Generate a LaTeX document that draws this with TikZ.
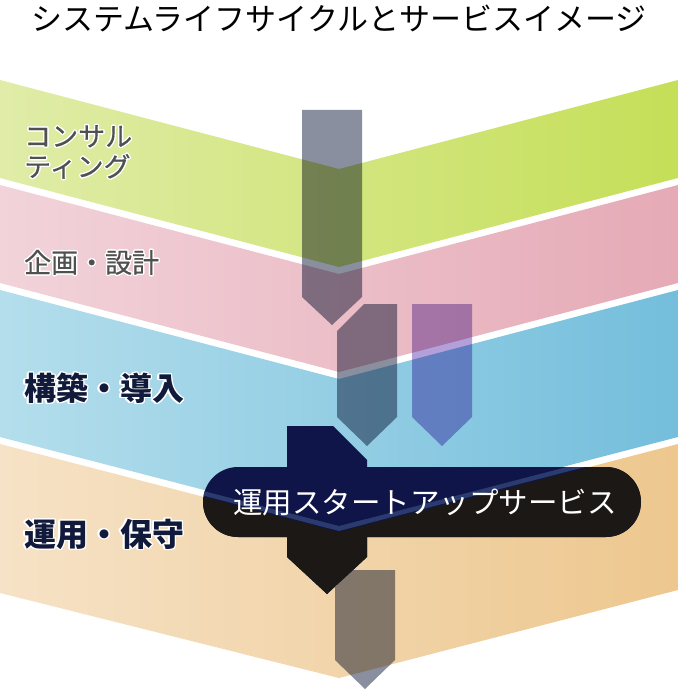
\documentclass[tikz,border=0pt]{standalone}
\usepackage{fontspec}
\setmainfont{Noto Sans CJK JP}
\newfontfamily\medfont[FakeBold=0.4]{Noto Sans CJK JP}
\usepackage{contour}
\contourlength{1.3pt}
\definecolor{gL}{HTML}{E0ECA8}
\definecolor{gR}{HTML}{C5DF58}
\definecolor{pL}{HTML}{F2D3DA}
\definecolor{pR}{HTML}{E5AAB6}
\definecolor{bL}{HTML}{B4DEEC}
\definecolor{bR}{HTML}{74BEDC}
\definecolor{oL}{HTML}{F6E2C6}
\definecolor{oR}{HTML}{EDC78E}
\definecolor{arrGray}{HTML}{8A8FA0}
\definecolor{arrPurple}{HTML}{B3A0DA}
\definecolor{navy}{HTML}{0F1548}
\definecolor{darkbrown}{HTML}{1C1816}
\definecolor{gapline}{HTML}{2B3B6E}
\definecolor{labgray}{HTML}{505050}
\definecolor{labnavy}{HTML}{111A3A}
\tikzset{
  lab/.style={anchor=west, inner sep=0pt, text=labgray, font=\medfont\fontsize{27}{30}\selectfont},
  labbold/.style={anchor=west, inner sep=0pt, text=labnavy, font=\fontsize{32}{34}\selectfont\bfseries},
  grayarrow/.style={fill=arrGray},
}
\begin{document}
\begin{tikzpicture}[x=1pt,y=-1pt]
\useasboundingbox (0,0) rectangle (678,690);
% bands
\path[left color=gL, right color=gR] (0,80) -- (339,169) -- (678,80) -- (678,178) -- (339,267) -- (0,178) -- cycle;
\path[left color=pL, right color=pR] (0,185) -- (339,274) -- (678,185) -- (678,283) -- (339,372) -- (0,283) -- cycle;
\path[left color=bL, right color=bR] (0,290) -- (339,379) -- (678,290) -- (678,437) -- (339,525) -- (0,437) -- cycle;
\path[left color=oL, right color=oR] (0,444) -- (339,532) -- (678,444) -- (678,590) -- (339,678) -- (0,593) -- cycle;
% multiply arrows
\begin{scope}[blend mode=multiply]
\fill[grayarrow] (302,110) -- (362,110) -- (362,297) -- (332,325) -- (302,297) -- cycle;
\fill[grayarrow] (337,331) -- (364,304) -- (397,304) -- (397,417) -- (367,446) -- (337,417) -- cycle;
\fill[fill=arrPurple] (412,304) -- (472,304) -- (472,417) -- (442,446) -- (412,417) -- cycle;
\fill[grayarrow] (335,587) -- (352,570) -- (395,570) -- (395,660) -- (365,689) -- (335,660) -- cycle;
\end{scope}
% big arrow and pill
\fill[navy] (287,426) -- (333,426) -- (367,460) -- (367,557) -- (327,594) -- (287,557) -- cycle;
\fill[navy, rounded corners=35pt] (203,467) rectangle (641,537);
\begin{scope}
\clip (287,426) -- (333,426) -- (367,460) -- (367,557) -- (327,594) -- (287,557) -- cycle;
\fill[darkbrown] (0,444) -- (339,532) -- (678,444) -- (678,700) -- (0,700) -- cycle;
\draw[gapline, line width=4.5pt] (0,440.5) -- (339,528.5) -- (678,440.5);
\end{scope}
\begin{scope}
\clip[rounded corners=35pt] (203,467) rectangle (641,537);
\fill[darkbrown] (0,444) -- (339,532) -- (678,444) -- (678,700) -- (0,700) -- cycle;
\draw[gapline, line width=4.5pt] (0,440.5) -- (339,528.5) -- (678,440.5);
\end{scope}
\node[text=white, inner sep=0pt, font=\fontsize{29.5}{31}\selectfont] (svc) at (425,502) {運用スタートアップサービス};
% title
\node[inner sep=0pt, font=\fontsize{31}{33}\selectfont] (title) at (339,18) {システムライフサイクルとサービスイメージ};
% labels
\node[lab] (cons1) at (24,137) {\contour{white}{コンサル}};
\node[lab] (cons2) at (24,167) {\contour{white}{ティング}};
\node[lab] (plan) at (24,263) {\contour{white}{企画・設計}};
\node[labbold] (build) at (24,389) {\contour{white}{構築・導入}};
\node[labbold] (ops) at (24,535) {\contour{white}{運用・保守}};
\end{tikzpicture}
\end{document}
